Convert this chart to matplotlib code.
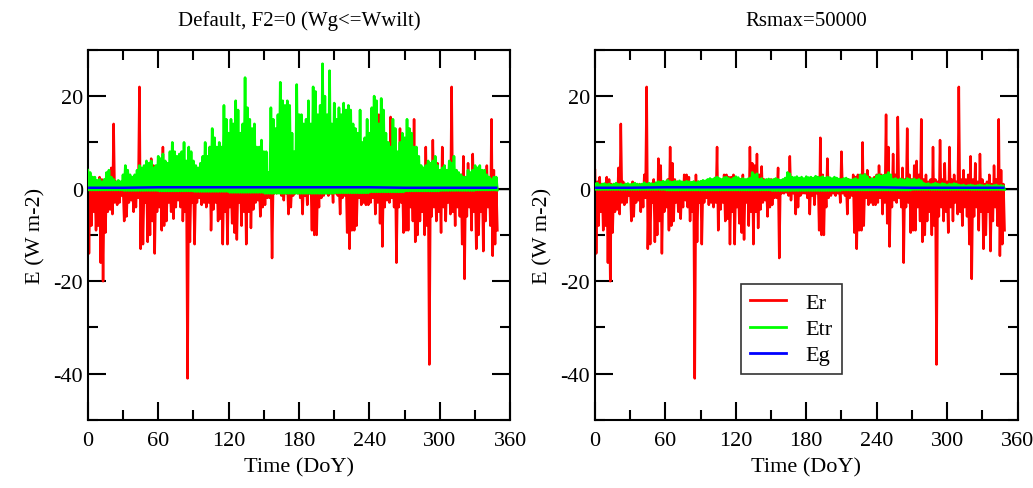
import numpy as np
import matplotlib
matplotlib.use("Agg")
import matplotlib.pyplot as plt
from matplotlib.ticker import MultipleLocator

plt.rcParams["font.family"] = ["Liberation Serif", "DejaVu Serif"]
plt.rcParams["axes.unicode_minus"] = False

# values sampled every 2 days (day 0, 2, ..., 348)
# Er daily maximum
er_max = [4, 1.5, 2.5, 1, 0.8, 2.5, 2, 1, 0.5, 1,
          4.5, 14, 1.5, 1, 0.8, 0.5, 1.5, 0.8, 0.5, 1,
          0.8, 3, 22, 1, 0.8, 2, 1, 6.5, 5, 1.5,
          1, 2, 9, 5.5, 2, 1.5, 1, 1, 3, 3,
          2.5, 1, 1.5, 3, 1.5, 1, 0.8, 0.5, 1, 1,
          0.8, 1, 9, 1.5, 1.5, 3, 3, 2.5, 2.5, 3,
          2, 1.5, 2, 3, 1.5, 2, 9, 5.5, 5, 7.5,
          3, 4.8, 2, 1.5, 1, 2, 1.5, 1, 4.5, 1.5,
          1, 2, 1.5, 7, 2, 1.5, 1, 1.5, 1, 2,
          2, 1.5, 2, 1.5, 1, 2.5, 11, 3, 2, 6.5,
          2, 1.5, 1, 2, 1.5, 8, 2, 1.5, 2, 1.5,
          3, 2.5, 3, 2, 10, 2, 4, 2.5, 2, 2.5,
          3, 5, 3, 2.5, 16, 9, 2.5, 7.5, 3, 15.5,
          2, 4.5, 2, 13, 3, 2, 5, 6, 3, 15,
          2, 3, 1.5, 2, 9, 2, 1.5, 10.5, 2, 5.5,
          1.5, 9, 2, 3, 1.5, 22, 2, 4, 2, 3,
          7, 2, 5.5, 1.5, 7.5, 2, 1, 1.5, 3, 1,
          5, 2, 15, 4, 1]

# Er daily minimum
er_min = [-14, -8, -5, -9, -8, -16, -20, -9.5, -5, -4.5,
          -5.5, -3, -3.5, -3, -1.5, -7, -6, -3, -2.5, -5,
          -4, -2, -13, -12, -3, -11.5, -10, -7, -14, -5,
          -4, -9, -8, -7, -3, -5, -6.5, -4, -2.5, -4,
          -7, -5, -41, -11.5, -3, -12, -3, -2, -3.5, -3,
          -4, -3, -9, -4.5, -3, -7, -6.5, -12, -5, -12,
          -4, -7.5, -9.5, -11, -3, -8, -5, -12, -5, -8.5,
          -4.5, -3, -2.5, -6, -4, -3.5, -2, -2, -15, -1,
          -1, -0.8, -1.5, -2.5, -1, -5.5, -4, -1.5, -1, -1,
          -2, -5.5, -1.5, -3.5, -1, -9, -10, -10, -4, -2,
          -1.5, -1, -1.5, -1, -3, -1, -1.5, -5.5, -2, -1.5,
          -9.5, -13, -9, -9, -8, -2, -3.5, -3, -3.5, -3.5,
          -3, -2, -5.5, -3, -7.5, -12.5, -4, -2.5, -3, -2,
          -4, -16, -4, -3, -9.5, -9, -9, -4, -7, -11.5,
          -10, -7, -5, -10, -8, -38, -6, -4, -7, -5,
          -9.5, -4, -7, -3, -5.5, -5, -8, -4, -6, -12,
          -19.5, -6, -4, -9, -5, -13, -10, -5, -13.5, -7,
          -4, -8, -14.5, -12, -9]

# Etr daily maximum, default run
etr_max_def = [4, 3.5, 2.5, 2.5, 1.8, 2, 1.5, 2, 3.5, 4,
               2.5, 2, 1.5, 1.8, 1.5, 3, 5, 4, 3, 2.5,
               3, 4, 5, 4.5, 5, 6, 5.5, 6, 4.5, 5,
               7, 6.5, 7.5, 6, 5.5, 8, 10, 8, 7, 7.5,
               8, 10, 6, 9, 8, 6, 5, 4.5, 5.5, 7,
               10, 7, 9, 13, 11, 9, 10, 9, 18, 15,
               12, 15, 14, 19, 17, 12, 14, 24, 17.5, 15,
               13, 14, 9, 9, 10.5, 8, 8, 3.5, 17.5, 15,
               13, 16, 23, 19, 18, 19, 18, 12, 8, 22.5,
               16, 16, 14, 15, 19, 14, 22, 21, 16, 18,
               27, 20, 16, 25.5, 14, 18.5, 15, 17.5, 16, 18.5,
               17, 18, 17, 14, 13, 12, 17, 10, 11, 15,
               12, 17.5, 20, 19, 14, 19.5, 17, 12, 10, 9,
               15, 13, 8, 10, 12, 11, 15, 13, 12, 9,
               9, 7, 5, 4.5, 5, 6, 5.5, 6, 7, 5,
               4, 4.5, 5, 4, 6, 5.5, 7, 4, 3.5, 3,
               2.5, 2.5, 4, 3.5, 4, 5, 4.5, 5, 4, 4,
               3, 2.5, 2, 2.5, 2.5]

# Etr daily maximum, Rsmax=50000 run
etr_max_rs = [1.0, 1.2, 0.8, 1.0, 1.1, 0.9, 1.0, 0.8, 1.0, 1.2,
              0.9, 1.0, 0.8, 1.0, 1.1, 0.9, 1.0, 1.2, 1.0, 0.9,
              1.0, 1.3, 1.0, 1.2, 1.1, 1.0, 1.3,
              1.5, 1.4, 1.6, 1.5, 1.8, 1.5, 1.4, 1.6, 1.5, 1.7,
              1.5, 1.4, 1.6, 1.5, 1.4, 1.5, 1.3, 1.5, 1.6, 1.8,
              1.7, 2.0, 2.2,
              2.0, 2.3, 2.5, 2.2, 2.0, 2.4, 2.5, 2.2, 2.0, 2.3,
              2.6, 2.4, 2.0, 2.2, 2.0, 2.1, 2.3,
              3.5, 3.0, 3.2,
              2.0, 2.2, 1.8, 2.0, 2.1, 1.9, 2.0, 2.2, 2.0, 1.8, 2.0, 2.3,
              3.5, 3.2,
              2.5, 2.4, 2.6, 2.3, 2.5, 2.2, 2.6, 2.4, 2.5, 2.3,
              2.7, 2.5, 2.4, 2.6, 2.3, 2.5, 2.4, 2.2, 2.5, 2.3,
              2.1, 2.0, 2.2, 2.3, 2.0, 1.9,
              2.0, 2.2, 1.9,
              3.0, 2.8, 3.1, 2.6,
              2.0, 2.2, 2.1,
              2.8, 3.0, 2.7, 2.9, 3.0, 3.5, 3.0,
              2.0, 2.2, 1.9, 2.1, 2.0, 1.8, 2.2, 2.0, 1.9, 2.1,
              1.8, 2.0, 1.7,
              1.2, 1.0, 1.1, 0.9, 1.0, 1.2, 1.0, 0.9, 1.1, 1.0,
              0.8, 1.0, 0.9, 1.1, 1.0,
              0.8, 0.7, 0.8, 0.6, 0.7, 0.8, 0.7, 0.6, 0.7, 0.8,
              0.7, 0.6, 0.8, 0.7, 0.6, 0.7, 0.8, 0.6, 0.7, 0.6]

# night-time Etr per 30-day block
etr_night_def = [-0.3, -0.4, -0.5, -0.6, -0.8, -1.0, -1.0, -0.9, -0.7, -0.5, -0.4, -0.3]
etr_night_rs = [-0.2, -0.2, -0.3, -0.3, -0.3, -0.4, -0.4, -0.3, -0.3, -0.2, -0.2, -0.2]

# Eg
eg_days = [0, 30, 60, 90, 120, 150, 180, 210, 240, 270, 300, 330, 348]
eg = [0.2, 0.2, 0.3, 0.3, 0.3, 0.3, 0.3, 0.3, 0.3, 0.2, 0.2, 0.2, 0.2]

titles = ["Default, F2=0 (Wg<=Wwilt)", "Rsmax=50000"]


def zigzag(hi, lo):
    # day d -> daytime value, day d+1 -> night value
    days = np.arange(len(hi)) * 2
    x = np.column_stack([days, days + 1]).ravel()
    y = np.column_stack([hi, lo]).ravel()
    return x, y


fig = plt.figure(figsize=(10.33, 4.89), dpi=100)
ax1 = fig.add_axes([0.085, 0.139, 0.409, 0.757])
ax2 = fig.add_axes([0.576, 0.139, 0.409, 0.757])

for ax, etr_hi, night, title in [(ax1, etr_max_def, etr_night_def, titles[0]),
                                 (ax2, etr_max_rs, etr_night_rs, titles[1])]:
    etr_lo = [night[min(i * 2 // 30, 11)] for i in range(len(etr_hi))]
    ax.axhline(0, color="black", lw=1.0, zorder=1)
    xr, yr = zigzag(er_max, er_min)
    ax.plot(xr, yr, color="#ff0000", lw=1.8, label="Er", zorder=2)
    xg, yg = zigzag(etr_hi, etr_lo)
    ax.plot(xg, yg, color="#00ff00", lw=1.9, label="Etr", zorder=3)
    ax.plot(eg_days, eg, color="#0000ff", lw=1.8, label="Eg", zorder=4)

    ax.set_xlim(0, 360)
    ax.set_ylim(-50, 30)
    ax.xaxis.set_major_locator(MultipleLocator(60))
    ax.xaxis.set_minor_locator(MultipleLocator(30))
    ax.yaxis.set_major_locator(MultipleLocator(20))
    ax.yaxis.set_minor_locator(MultipleLocator(10))
    ax.tick_params(which="both", direction="in", top=True, right=True,
                   width=1.5, labelsize=16)
    ax.tick_params(which="major", length=13)
    ax.tick_params(which="minor", length=7)
    ax.tick_params(axis="x", pad=8)
    for s in ax.spines.values():
        s.set_linewidth(1.5)
    ax.set_xlabel("Time (DoY)", fontsize=16, labelpad=5)
    ax.set_ylabel("E (W m-2)", fontsize=16, labelpad=6)
    ax.set_title(title, fontsize=15, pad=18)

leg = ax2.legend(loc="upper left", bbox_to_anchor=(0.346, 0.368), fontsize=16,
                 frameon=True, fancybox=False, edgecolor="black",
                 borderaxespad=0, handlelength=1.6, labelspacing=0.25,
                 borderpad=0.4, handletextpad=0.9)
leg.get_frame().set_linewidth(1.2)
for line in leg.get_lines():
    line.set_linewidth(2)

fig.savefig("out.png", dpi=100)
